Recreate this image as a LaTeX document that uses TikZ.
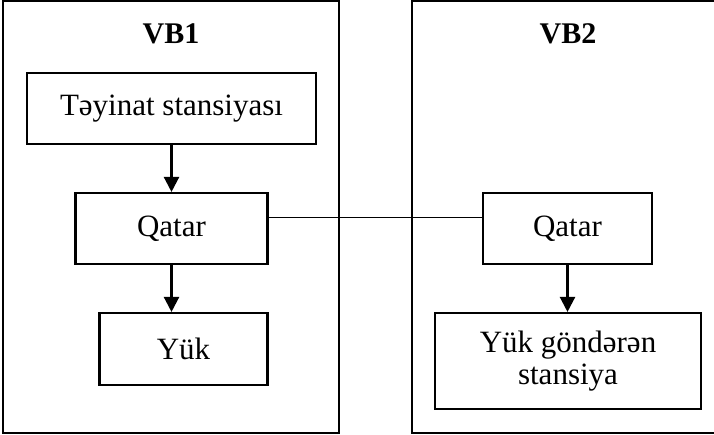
\documentclass[tikz,border=0pt]{standalone}
\usepackage{fontspec}
\setmainfont{Liberation Serif}
\usetikzlibrary{arrows.meta}
\begin{document}
\begin{tikzpicture}[x=1pt,y=-1pt,
  panel/.style={draw,line width=2.3pt},
  box/.style={draw,line width=2.1pt,rectangle,inner sep=0pt,align=center,
    font=\fontsize{31}{34}\selectfont},
  title/.style={font=\fontsize{30}{34}\selectfont\bfseries},
  flow/.style={line width=2.3pt,-{Triangle[length=15pt,width=15pt]}},
  link/.style={line width=1.9pt}]
\useasboundingbox (0,0) rectangle (714,435);
\begin{scope}
\clip (0,0) rectangle (714,435);
% two subsystem panels
\draw[panel] (3,1) rectangle (339,433);
\draw[panel] (412,1) rectangle (730,433);
\end{scope}
\node[title] (vb1) at (171,34) {VB1};
\node[title] (vb2) at (568,34) {VB2};
% left panel boxes
\node[box,minimum width=289pt,minimum height=71pt] (dest) at (171.5,108.5) {Təyinat stansiyası};
\node[box,minimum width=192pt,minimum height=71pt] (trainL) at (171.5,228.5) {Qatar};
\node[box,minimum width=168pt,minimum height=72pt] (cargo) at (183.5,349) {Yük};
% right panel boxes
\node[box,minimum width=169pt,minimum height=71pt] (trainR) at (567.5,228.5) {Qatar};
\node[box,minimum width=266pt,minimum height=96pt] (origin) at (568,361) {Yük göndərən\\[-2pt]stansiya};
% connectors
\draw[flow] (dest.south -| trainL) -- (trainL.north);
\draw[flow] (trainL.south) -- (trainL.south |- cargo.north);
\draw[flow] (trainR.south) -- (trainR.south |- origin.north);
\draw[link] ([yshift=11pt]trainL.east) -- ([yshift=11pt]trainR.west);
\end{tikzpicture}
\end{document}
